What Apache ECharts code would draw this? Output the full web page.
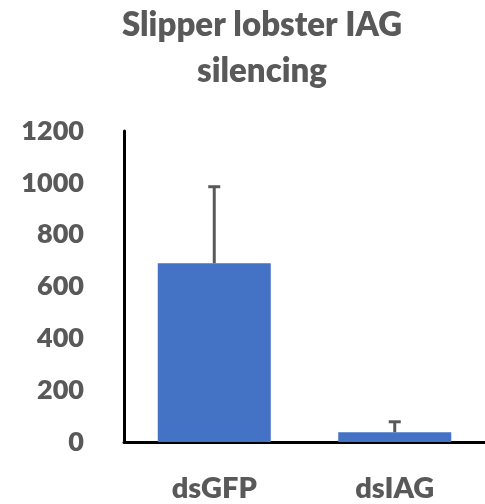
<!DOCTYPE html>
<html><head><meta charset="utf-8">
<script src="https://cdn.jsdelivr.net/npm/echarts@6/dist/echarts.min.js"></script>
<style>html,body{margin:0;padding:0;background:#fff}#c{width:485px;height:504px}</style>
</head><body><div id="c"></div>
<script>
const categories = ['dsGFP', 'dsIAG'];
const means = [690, 38];
const errors = [295, 40];
const yTicks = [0, 200, 400, 600, 800, 1000, 1200];

const FONT = 'Lato';
const GRAY = '#595959';
const WEIGHT = 800;
const chart = echarts.init(document.getElementById('c'));
chart.setOption({
  animation: false,
  backgroundColor: '#fff',
  title: {
    text: 'Slipper lobster IAG\nsilencing',
    left: 257, top: -3, textAlign: 'center',
    textStyle: { fontFamily: FONT, fontWeight: WEIGHT, fontSize: 33, color: GRAY, lineHeight: 46 }
  },
  grid: { left: 124, right: -9, top: 131, bottom: 62 },
  xAxis: {
    type: 'category', data: categories,
    axisLine: { lineStyle: { color: '#000', width: 3 } },
    axisTick: { show: false },
    axisLabel: { fontFamily: FONT, fontWeight: WEIGHT, fontSize: 29, color: GRAY, margin: 32 }
  },
  yAxis: {
    type: 'value', min: yTicks[0], max: yTicks[yTicks.length - 1], interval: 200,
    axisLine: { show: true, lineStyle: { color: '#000', width: 3 } },
    axisTick: { show: false },
    splitLine: { show: false },
    axisLabel: { fontFamily: FONT, fontWeight: WEIGHT, fontSize: 27, color: GRAY, margin: 40,
      formatter: v => String(v) }
  },
  series: [
    {
      type: 'bar', data: means, barWidth: 113,
      itemStyle: { color: '#4472C4' }
    },
    {
      type: 'custom',
      data: means.map((m, i) => [i, m, m + errors[i]]),
      renderItem: function (params, api) {
        const x = api.value(0);
        const lo = api.coord([x, api.value(1)]);
        const hi = api.coord([x, api.value(2)]);
        const style = { stroke: GRAY, lineWidth: 3 };
        return {
          type: 'group',
          children: [
            { type: 'line', shape: { x1: lo[0], y1: lo[1], x2: hi[0], y2: hi[1] }, style: style },
            { type: 'line', shape: { x1: hi[0] - 6, y1: hi[1], x2: hi[0] + 6, y2: hi[1] }, style: style }
          ]
        };
      },
      z: 3
    }
  ]
});
</script></body></html>
